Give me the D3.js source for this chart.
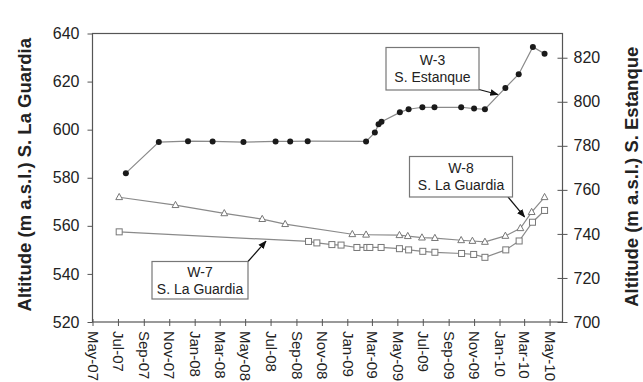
<!DOCTYPE html>
<html>
<head>
<meta charset="utf-8">
<script src="https://cdn.jsdelivr.net/npm/d3@7/dist/d3.min.js"></script>
<style>
  body { margin: 0; background: #fff; }
  svg text { font-family: Arial, "Liberation Sans", sans-serif; fill: #222; }
</style>
</head>
<body>
<svg id="chart" width="643" height="382"></svg>
<script>
// W-3, S. Estanque (right axis)
const w3Dates = ["2007-07-20","2007-10-07","2007-12-16","2008-02-13","2008-04-27","2008-07-13",
  "2008-08-17","2008-09-28","2009-02-15","2009-03-08","2009-03-17","2009-03-24","2009-05-07",
  "2009-05-28","2009-06-30","2009-07-29","2009-10-01","2009-11-01","2009-11-27","2010-01-15",
  "2010-02-16","2010-03-22","2010-04-19"];
const w3Levels = [767.6,781.7,782.1,782.0,781.7,782.0,782.0,782.1,782.0,786.0,789.8,790.9,795.2,
  796.6,797.5,797.5,797.5,796.9,796.6,806.3,812.5,824.9,821.8];

// W-8, S. La Guardia (left axis)
const w8Dates = ["2007-07-04","2007-11-16","2008-03-12","2008-06-11","2008-08-05","2009-01-13",
  "2009-02-15","2009-05-06","2009-05-26","2009-06-29","2009-07-30","2009-10-01","2009-10-28",
  "2009-11-27","2010-01-15","2010-02-20","2010-03-19","2010-04-19"];
const w8Levels = [571.9,568.6,565.2,562.8,560.7,556.5,556.3,556.1,555.7,555.1,554.9,554.0,553.7,
  553.3,555.8,559.0,565.7,571.9];

// W-7, S. La Guardia (left axis)
const w7Dates = ["2007-07-04","2008-09-30","2008-10-20","2008-11-25","2008-12-17","2009-01-24",
  "2009-02-17","2009-02-24","2009-03-23","2009-05-06","2009-05-28","2009-07-01","2009-07-30",
  "2009-10-02","2009-10-31","2009-11-27","2010-01-16","2010-02-17","2010-03-21","2010-04-19"];
const w7Levels = [557.5,553.5,552.9,552.2,552.0,551.0,551.0,551.0,551.0,550.5,550.0,549.4,549.0,
  548.5,548.1,546.9,550.0,553.7,561.5,566.4];

// Axis ticks
const xTickDates = ["2007-05-01","2007-07-01","2007-09-01","2007-11-01","2008-01-01","2008-03-01",
  "2008-05-01","2008-07-01","2008-09-01","2008-11-01","2009-01-01","2009-03-01","2009-05-01",
  "2009-07-01","2009-09-01","2009-11-01","2010-01-01","2010-03-01","2010-05-01"];
const leftTicks = [520, 540, 560, 580, 600, 620, 640];
const rightTicks = [700, 720, 740, 760, 780, 800, 820];

// Callouts: label lines and the point each arrow points at
const callouts = [
  { lines: ["W-3", "S. Estanque"], axis: "right", date: "2009-12-28", value: 803.3,
    box: [386, 47.5, 93, 42.5], from: [479, 89.5] },
  { lines: ["W-8", "S. La Guardia"], axis: "left", date: "2010-03-02", value: 563.7,
    box: [409.5, 156.5, 103, 40.5], from: [508, 197] },
  { lines: ["W-7", "S. La Guardia"], axis: "left", date: "2008-06-20", value: 553.6,
    box: [152, 261.5, 96, 37.5], from: [248, 261.5] }
];

const parse = d3.timeParse("%Y-%m-%d");
const svg = d3.select("#chart");

const plot = { left: 92.5, right: 562.5, top: 33.5, bottom: 322 };

const x = d3.scaleTime()
  .domain([parse("2007-05-01"), parse("2010-06-01")])
  .range([plot.left, plot.right]);
const yL = d3.scaleLinear().domain([520, 640]).range([plot.bottom, plot.top]);
const yR = d3.scaleLinear().domain([700, 831]).range([plot.bottom, plot.top]);

const axisColor = "#555";

// Plot frame
svg.append("rect")
  .attr("x", plot.left).attr("y", plot.top)
  .attr("width", plot.right - plot.left).attr("height", plot.bottom - plot.top)
  .attr("fill", "none").attr("stroke", axisColor).attr("stroke-width", 1.2);

// Left axis
const gL = svg.append("g").attr("transform", `translate(${plot.left},0)`)
  .call(d3.axisLeft(yL).tickValues(leftTicks).tickSize(5).tickPadding(8).tickSizeOuter(0));
gL.select(".domain").remove();
gL.selectAll("line").attr("stroke", axisColor);
gL.selectAll("text").attr("font-size", 16).style("fill", "#222");

// Right axis (ticks cross the frame)
const gR = svg.append("g").attr("transform", `translate(${plot.right},0)`)
  .call(d3.axisRight(yR).tickValues(rightTicks).tickSize(5).tickPadding(6).tickSizeOuter(0));
gR.select(".domain").remove();
gR.selectAll("line").attr("x1", -5).attr("stroke", axisColor);
gR.selectAll("text").attr("font-size", 16).style("fill", "#222");

// Bottom axis with vertical month labels
const gX = svg.append("g").attr("transform", `translate(0,${plot.bottom})`)
  .call(d3.axisBottom(x).tickValues(xTickDates.map(parse))
    .tickFormat(d3.timeFormat("%b-%y")).tickSize(4).tickSizeOuter(0));
gX.select(".domain").remove();
gX.selectAll("line").attr("y1", -3).attr("stroke", axisColor);
gX.selectAll("text")
  .attr("font-size", 15)
  .attr("text-anchor", "start")
  .attr("transform", "rotate(90)")
  .attr("x", 9).attr("y", 0).attr("dy", "0.35em")
  .style("fill", "#222");

// Axis titles
svg.append("text")
  .attr("transform", `translate(31,${(plot.top + plot.bottom) / 2 - 3}) rotate(-90)`)
  .attr("text-anchor", "middle").attr("font-size", 18.5).attr("font-weight", "bold")
  .text("Altitude (m a.s.l.) S. La Guardia");
svg.append("text")
  .attr("transform", `translate(638,${(plot.top + plot.bottom) / 2 - 1}) rotate(-90)`)
  .attr("text-anchor", "middle").attr("font-size", 18.5).attr("font-weight", "bold")
  .text("Altitude (m a.s.l.) S. Estanque");

const lineColor = "#8a8a8a";

function series(dates, values, yScale) {
  return dates.map((d, i) => ({ date: parse(d), value: values[i], y: yScale }));
}
const w3 = series(w3Dates, w3Levels, yR);
const w8 = series(w8Dates, w8Levels, yL);
const w7 = series(w7Dates, w7Levels, yL);

function drawLine(data) {
  svg.append("path").datum(data)
    .attr("fill", "none").attr("stroke", lineColor).attr("stroke-width", 1.2)
    .attr("d", d3.line().x(d => x(d.date)).y(d => d.y(d.value)));
}
drawLine(w7);
drawLine(w8);
drawLine(w3);

// W-7 markers: open squares
svg.append("g").selectAll("rect").data(w7).join("rect")
  .attr("x", d => x(d.date) - 3).attr("y", d => d.y(d.value) - 3)
  .attr("width", 6).attr("height", 6)
  .attr("fill", "#fff").attr("stroke", "#777").attr("stroke-width", 1);

// W-8 markers: open triangles
svg.append("g").selectAll("path").data(w8).join("path")
  .attr("transform", d => `translate(${x(d.date)},${d.y(d.value)})`)
  .attr("d", "M0,-3.8L3.4,2.4L-3.4,2.4Z")
  .attr("fill", "#fff").attr("stroke", "#777").attr("stroke-width", 1);

// W-3 markers: filled dots
svg.append("g").selectAll("circle").data(w3).join("circle")
  .attr("cx", d => x(d.date)).attr("cy", d => d.y(d.value)).attr("r", 3)
  .attr("fill", "#1a1a1a");

// Arrowhead
svg.append("defs").append("marker")
  .attr("id", "arrow").attr("viewBox", "0 0 10 10").attr("refX", 9).attr("refY", 5)
  .attr("markerWidth", 7).attr("markerHeight", 7).attr("orient", "auto")
  .append("path").attr("d", "M0,1L10,5L0,9Z").attr("fill", "#111");

callouts.forEach(c => {
  const yScale = c.axis === "right" ? yR : yL;
  const tx = x(parse(c.date)), ty = yScale(c.value);
  svg.append("line")
    .attr("x1", c.from[0]).attr("y1", c.from[1]).attr("x2", tx).attr("y2", ty)
    .attr("stroke", "#111").attr("stroke-width", 1.2).attr("marker-end", "url(#arrow)");
  const [bx, by, bw, bh] = c.box;
  svg.append("rect").attr("x", bx).attr("y", by).attr("width", bw).attr("height", bh)
    .attr("fill", "#fff").attr("stroke", "#777").attr("stroke-width", 1.2);
  c.lines.forEach((t, i) => {
    svg.append("text")
      .attr("x", bx + bw / 2).attr("y", by + bh / 2 + (i - 0.5) * 17 + 5)
      .attr("text-anchor", "middle").attr("font-size", 14).text(t);
  });
});
</script>
</body>
</html>
